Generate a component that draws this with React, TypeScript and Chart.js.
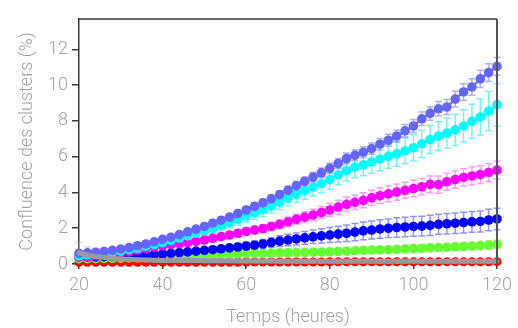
import React, { useEffect, useRef } from "react";
import { Chart, registerables } from "chart.js";

Chart.register(...registerables);

const hours = [20,22,24,26,28,30,32,34,36,38,40,42,44,46,48,50,52,54,56,58,60,62,64,66,68,70,72,74,76,78,80,82,84,86,88,90,92,94,96,98,100,102,104,106,108,110,112,114,116,118,120];

const slateValues = [0.60,0.62,0.66,0.70,0.76,0.84,0.92,1.02,1.12,1.24,1.38,1.50,1.64,1.80,1.95,2.10,2.28,2.45,2.62,2.82,3.02,3.22,3.42,3.64,3.88,4.12,4.38,4.62,4.86,5.10,5.35,5.62,5.90,6.08,6.25,6.45,6.70,6.92,7.16,7.45,7.72,8.12,8.42,8.68,8.78,9.22,9.62,9.90,10.35,10.70,11.05];
const slateErrors = [0.15,0.08,0.08,0.08,0.09,0.09,0.10,0.10,0.10,0.11,0.12,0.12,0.13,0.14,0.15,0.16,0.16,0.17,0.18,0.19,0.20,0.20,0.21,0.22,0.22,0.23,0.24,0.25,0.26,0.27,0.28,0.28,0.30,0.30,0.30,0.31,0.32,0.33,0.34,0.35,0.36,0.38,0.38,0.40,0.42,0.44,0.46,0.46,0.48,0.50,0.50];

const cyanValues = [0.45,0.50,0.55,0.60,0.66,0.72,0.80,0.88,0.98,1.08,1.20,1.32,1.45,1.58,1.72,1.86,2.00,2.15,2.32,2.50,2.68,2.86,3.04,3.24,3.45,3.68,3.90,4.10,4.30,4.50,4.72,4.98,5.22,5.42,5.55,5.70,5.86,6.02,6.16,6.32,6.50,6.72,6.96,7.15,7.32,7.50,7.72,7.98,8.22,8.55,8.90];
const cyanErrors = [0.12,0.10,0.10,0.10,0.11,0.12,0.13,0.14,0.15,0.16,0.18,0.19,0.20,0.22,0.24,0.25,0.27,0.29,0.30,0.32,0.34,0.36,0.38,0.40,0.42,0.44,0.46,0.48,0.50,0.52,0.54,0.55,0.58,0.60,0.62,0.64,0.66,0.68,0.70,0.72,0.74,0.76,0.78,0.80,0.84,0.88,0.90,0.95,1.00,1.10,1.20];

const magentaValues = [0.40,0.42,0.45,0.50,0.56,0.62,0.70,0.78,0.86,0.94,1.02,1.08,1.14,1.20,1.26,1.34,1.44,1.53,1.62,1.72,1.82,1.90,1.98,2.10,2.22,2.36,2.50,2.62,2.74,2.88,3.02,3.18,3.34,3.45,3.56,3.70,3.82,3.92,4.02,4.12,4.22,4.32,4.45,4.44,4.60,4.72,4.84,4.92,5.00,5.12,5.25];
const magentaErrors = [0.10,0.06,0.06,0.06,0.07,0.07,0.08,0.08,0.09,0.10,0.10,0.11,0.12,0.13,0.14,0.15,0.16,0.17,0.18,0.19,0.20,0.21,0.22,0.23,0.24,0.26,0.28,0.30,0.32,0.34,0.36,0.38,0.40,0.40,0.42,0.42,0.44,0.44,0.45,0.45,0.46,0.46,0.47,0.48,0.48,0.48,0.49,0.50,0.50,0.50,0.50];

const blueValues = [0.40,0.40,0.40,0.41,0.42,0.43,0.45,0.47,0.50,0.53,0.56,0.60,0.64,0.68,0.72,0.76,0.80,0.85,0.90,0.95,1.00,1.05,1.12,1.20,1.28,1.34,1.40,1.46,1.52,1.57,1.62,1.67,1.72,1.78,1.85,1.90,1.96,2.00,2.04,2.07,2.10,2.12,2.16,2.22,2.25,2.28,2.32,2.36,2.38,2.46,2.52];
const blueErrors = [0.10,0.05,0.05,0.05,0.05,0.06,0.06,0.07,0.07,0.08,0.08,0.09,0.10,0.11,0.12,0.13,0.14,0.15,0.17,0.19,0.21,0.23,0.25,0.27,0.30,0.32,0.34,0.36,0.38,0.40,0.42,0.44,0.46,0.48,0.50,0.50,0.52,0.52,0.54,0.54,0.55,0.55,0.56,0.56,0.57,0.57,0.58,0.58,0.59,0.60,0.60];

const greenValues = [0.30,0.30,0.30,0.31,0.32,0.33,0.34,0.35,0.36,0.38,0.40,0.41,0.42,0.44,0.46,0.48,0.50,0.52,0.54,0.56,0.58,0.59,0.60,0.61,0.62,0.63,0.64,0.65,0.66,0.67,0.68,0.70,0.72,0.74,0.76,0.78,0.79,0.80,0.82,0.84,0.86,0.88,0.90,0.92,0.94,0.96,0.98,1.00,1.03,1.06,1.10];
const greenErrors = [0.05,0.03,0.03,0.03,0.03,0.03,0.03,0.04,0.04,0.04,0.05,0.05,0.05,0.06,0.06,0.07,0.07,0.08,0.08,0.09,0.09,0.10,0.10,0.11,0.11,0.12,0.12,0.13,0.13,0.14,0.14,0.15,0.15,0.16,0.16,0.17,0.17,0.18,0.18,0.19,0.19,0.20,0.20,0.20,0.21,0.21,0.22,0.22,0.23,0.23,0.24];

const grayValues = [0.62,0.50,0.42,0.36,0.32,0.28,0.26,0.24,0.22,0.21,0.20,0.20,0.19,0.19,0.19,0.18,0.18,0.18,0.18,0.17,0.17,0.17,0.17,0.17,0.16,0.16,0.16,0.16,0.16,0.16,0.16,0.16,0.15,0.15,0.15,0.15,0.15,0.15,0.15,0.15,0.15,0.15,0.15,0.15,0.15,0.15,0.15,0.15,0.15,0.15,0.15];
const grayErrors = [0.60,0.45,0.30,0.20,0.15,0.12,0.10,0.08,0.07,0.06,0.06,0.05,0.05,0.05,0.05,0.05,0.05,0.05,0.05,0.05,0.05,0.05,0.05,0.05,0.05,0.05,0.05,0.05,0.05,0.05,0.05,0.05,0.05,0.05,0.05,0.05,0.05,0.05,0.05,0.05,0.05,0.05,0.05,0.05,0.05,0.05,0.05,0.05,0.05,0.05,0.05];

const redValues = [0.10,0.10,0.10,0.10,0.10,0.10,0.10,0.10,0.10,0.10,0.10,0.10,0.10,0.10,0.10,0.10,0.10,0.10,0.10,0.10,0.11,0.11,0.11,0.11,0.11,0.11,0.11,0.11,0.11,0.11,0.12,0.12,0.12,0.12,0.12,0.12,0.12,0.12,0.12,0.12,0.12,0.12,0.12,0.12,0.12,0.12,0.12,0.12,0.12,0.12,0.13];
const redErrors = [0.03,0.03,0.03,0.03,0.03,0.03,0.03,0.03,0.03,0.03,0.03,0.03,0.03,0.03,0.03,0.03,0.03,0.03,0.03,0.03,0.03,0.03,0.03,0.03,0.03,0.03,0.03,0.03,0.03,0.03,0.03,0.03,0.03,0.03,0.03,0.03,0.03,0.03,0.03,0.03,0.03,0.03,0.03,0.03,0.03,0.03,0.03,0.03,0.03,0.03,0.03];

const xTicks = [20, 40, 60, 80, 100, 120];
const yTicks = [0, 2, 4, 6, 8, 10, 12];

const textColor = "#a3a3a3";
const axisColor = "#3a3a3a";
const FONT = "Roboto";

function makeSeries(label: string, values: number[], errors: number[], color: string, errColor: string, radius: number, width: number) {
  return {
    label,
    data: hours.map((h, i) => ({ x: h, y: values[i] })),
    errors,
    errColor,
    borderColor: color,
    backgroundColor: color,
    pointBackgroundColor: color,
    pointBorderColor: color,
    pointBorderWidth: 0,
    pointRadius: radius,
    borderWidth: width,
    clip: false as const,
  };
}

const errorBarPlugin = {
  id: "errorBars",
  beforeDatasetsDraw(chart: any) {
    const ctx = chart.ctx;
    const xs = chart.scales.x;
    const ys = chart.scales.y;
    const sets = chart.data.datasets;
    ctx.save();
    for (let d = sets.length - 1; d >= 0; d--) {
      const ds = sets[d];
      ctx.strokeStyle = ds.errColor;
      ctx.lineWidth = 1.5;
      ds.data.forEach((p: any, i: number) => {
        const e = ds.errors[i];
        const x = xs.getPixelForValue(p.x);
        const y1 = ys.getPixelForValue(p.y - e);
        const y2 = ys.getPixelForValue(p.y + e);
        ctx.beginPath();
        ctx.moveTo(x, y1);
        ctx.lineTo(x, y2);
        ctx.moveTo(x - 3.5, y1);
        ctx.lineTo(x + 3.5, y1);
        ctx.moveTo(x - 3.5, y2);
        ctx.lineTo(x + 3.5, y2);
        ctx.stroke();
      });
    }
    ctx.restore();
  },
};

const framePlugin = {
  id: "frame",
  afterDraw(chart: any) {
    const { ctx, chartArea } = chart;
    ctx.save();
    ctx.strokeStyle = axisColor;
    ctx.lineWidth = 1.5;
    ctx.beginPath();
    ctx.moveTo(chartArea.left, chartArea.top);
    ctx.lineTo(chartArea.right, chartArea.top);
    ctx.stroke();
    ctx.strokeStyle = "#555";
    ctx.lineWidth = 2;
    ctx.beginPath();
    ctx.moveTo(chartArea.right, chartArea.top);
    ctx.lineTo(chartArea.right, chartArea.bottom);
    ctx.stroke();
    ctx.restore();
  },
};

export default function App() {
  const ref = useRef<HTMLCanvasElement | null>(null);
  useEffect(() => {
    if (!ref.current) return;
    const chart = new Chart(ref.current, {
      type: "line",
      data: {
        datasets: [
          makeSeries("gris", grayValues, grayErrors, "#9a9a9a", "rgba(170,170,170,0.45)", 2.5, 5),
          makeSeries("violet", slateValues, slateErrors, "#6464ff", "rgba(110,110,255,0.55)", 4.8, 2),
          makeSeries("cyan", cyanValues, cyanErrors, "#00ffff", "rgba(0,235,235,0.55)", 4.8, 2),
          makeSeries("magenta", magentaValues, magentaErrors, "#ff00ff", "rgba(255,60,255,0.5)", 4.8, 2),
          makeSeries("bleu", blueValues, blueErrors, "#0000ff", "rgba(40,40,255,0.5)", 4.8, 2),
          makeSeries("vert", greenValues, greenErrors, "#66ff33", "rgba(110,255,60,0.45)", 4.8, 2),
          makeSeries("rouge", redValues, redErrors, "#ff0000", "rgba(255,0,0,0.4)", 4.5, 2),
        ] as any,
      },
      options: {
        animation: false,
        responsive: false,
        events: [],
        layout: { padding: { top: 19, right: 16, left: 0, bottom: 0 } },
        plugins: {
          legend: { display: false },
          tooltip: { enabled: false },
          title: { display: false },
        },
        scales: {
          x: {
            type: "linear",
            min: 20,
            max: 120,
            afterBuildTicks: (s: any) => {
              s.ticks = xTicks.map((v) => ({ value: v }));
            },
            afterFit: (s: any) => {
              s.height = 64;
            },
            ticks: {
              color: textColor,
              font: { family: FONT, size: 18, weight: "300" },
              padding: 6,
              maxRotation: 0,
              autoSkip: false,
            },
            grid: { drawOnChartArea: false, drawTicks: true, tickLength: 5, color: axisColor, lineWidth: 1.5 },
            border: { display: true, color: axisColor, width: 1.5 },
            title: {
              display: true,
              text: "Temps (heures)",
              color: textColor,
              font: { family: FONT, size: 18, weight: "300" },
              padding: { top: 0, bottom: 0 },
            },
          },
          y: {
            type: "linear",
            min: 0,
            max: 13.7,
            afterBuildTicks: (s: any) => {
              s.ticks = yTicks.map((v) => ({ value: v }));
            },
            afterFit: (s: any) => {
              s.width = 79;
            },
            ticks: {
              color: textColor,
              font: { family: FONT, size: 18, weight: "300" },
              padding: 4,
              autoSkip: false,
            },
            grid: { drawOnChartArea: false, drawTicks: true, tickLength: 7, color: axisColor, lineWidth: 1.5 },
            border: { display: true, color: axisColor, width: 1.5 },
            title: {
              display: true,
              text: "Confluence des clusters (%)",
              color: textColor,
              font: { family: FONT, size: 18, weight: "300" },
              padding: { top: 17, bottom: 0 },
            },
          },
        },
      } as any,
      plugins: [errorBarPlugin, framePlugin],
    });
    return () => chart.destroy();
  }, []);
  return (
    <canvas
      ref={ref}
      width={518}
      height={328}
      style={{ position: "fixed", left: 0, top: 0, width: 518, height: 328 }}
    />
  );
}
